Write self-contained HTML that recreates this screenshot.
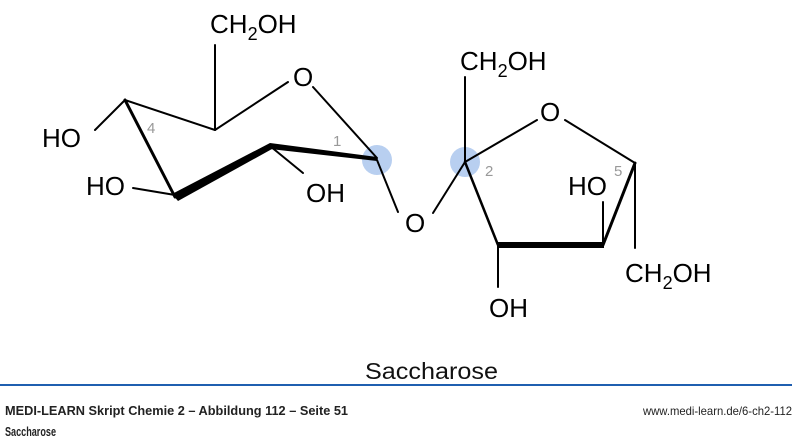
<!DOCTYPE html>
<html><head><meta charset="utf-8"><style>
html,body{margin:0;padding:0;background:#fff;}
svg{display:block;}
text{font-family:"Liberation Sans",Arial,sans-serif;}
</style></head><body>
<svg width="800" height="442" viewBox="0 0 800 442" xmlns="http://www.w3.org/2000/svg">
<circle cx="377" cy="160" r="15" fill="#b8cff0"/>
<circle cx="465" cy="162" r="15" fill="#b8cff0"/>
<g stroke="#000" stroke-width="2" fill="none" stroke-linecap="round">
<line x1="215" y1="130" x2="215" y2="45"/>
<line x1="125" y1="100" x2="215" y2="130"/>
<line x1="215" y1="130" x2="288" y2="82"/>
<line x1="313" y1="87" x2="377" y2="158"/>
<line x1="95" y1="130" x2="125" y2="100"/>
<line x1="125" y1="100" x2="175" y2="197" stroke-width="3"/>
<line x1="133" y1="188" x2="175" y2="195"/>
<line x1="270" y1="146" x2="303" y2="173"/>
<line x1="377" y1="160" x2="398" y2="212"/>
<line x1="465" y1="77" x2="465" y2="162"/>
<line x1="465" y1="162" x2="537" y2="120"/>
<line x1="565" y1="120" x2="635" y2="163"/>
<line x1="465" y1="162" x2="433" y2="213"/>
<line x1="465" y1="162" x2="498" y2="245" stroke-width="2.5"/>
<line x1="498" y1="245" x2="498" y2="287"/>
<line x1="603" y1="245" x2="603" y2="202"/>
<line x1="635" y1="163" x2="603" y2="245" stroke-width="3"/>
<line x1="635" y1="163" x2="635" y2="248"/>
</g>
<polygon points="172,194 270,143 272,149 178,201" fill="#000"/>
<polygon points="270,143 377,157 377,161 270,149" fill="#000"/>
<polygon points="497,242 604,242 604,248 497,248" fill="#000"/>
<g font-size="26" fill="#000">
<text x="210" y="33">CH<tspan font-size="18" dy="7">2</tspan><tspan dy="-7">OH</tspan></text>
<text x="293" y="86">O</text>
<text x="42" y="147">HO</text>
<text x="86" y="195">HO</text>
<text x="306" y="202">OH</text>
<text x="405" y="232">O</text>
<text x="460" y="70">CH<tspan font-size="18" dy="7">2</tspan><tspan dy="-7">OH</tspan></text>
<text x="540" y="121">O</text>
<text x="568" y="195">HO</text>
<text x="489" y="317">OH</text>
<text x="625" y="282">CH<tspan font-size="18" dy="7">2</tspan><tspan dy="-7">OH</tspan></text>
</g>
<g font-size="15" fill="#999">
<text x="147" y="133">4</text>
<text x="333" y="146">1</text>
<text x="485" y="176">2</text>
<text x="614" y="176">5</text>
</g>
<text x="365" y="379" font-size="23" textLength="133" lengthAdjust="spacingAndGlyphs" fill="#111">Saccharose</text>
<rect x="0" y="384" width="792" height="2" fill="#1f5fb0"/>
<text x="5" y="415" font-size="13" font-weight="bold" textLength="343" lengthAdjust="spacingAndGlyphs" fill="#222">MEDI-LEARN Skript Chemie 2 – Abbildung 112 – Seite 51</text>
<text x="643" y="415" font-size="12" textLength="149" lengthAdjust="spacingAndGlyphs" fill="#222">www.medi-learn.de/6-ch2-112</text>
<text x="5" y="436" font-size="13" font-weight="bold" textLength="51" lengthAdjust="spacingAndGlyphs" fill="#222">Saccharose</text>
</svg>
</body></html>
